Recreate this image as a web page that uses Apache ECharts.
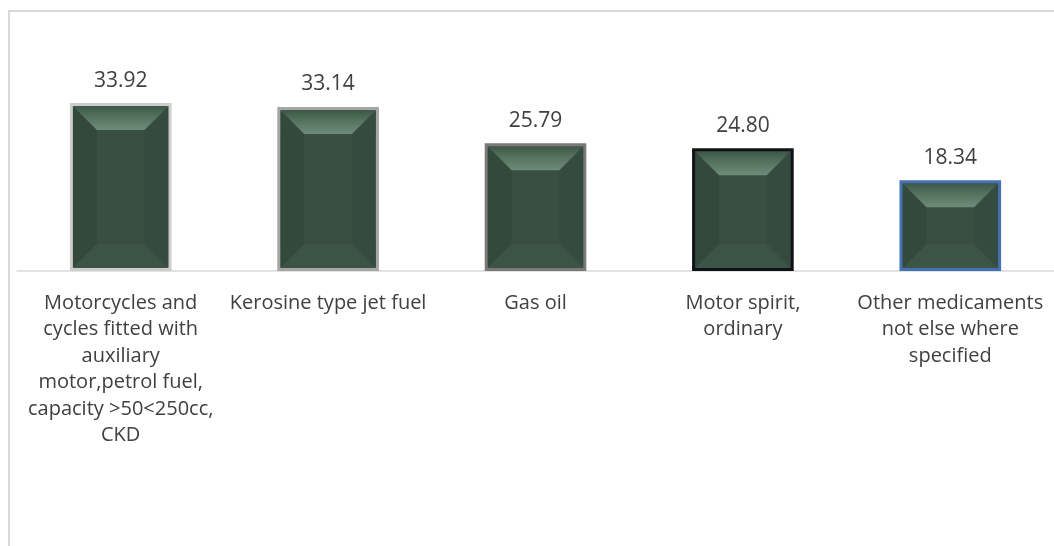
<!DOCTYPE html>
<html>
<head>
<meta charset="utf-8">
<script src="https://cdn.jsdelivr.net/npm/echarts@6/dist/echarts.min.js"></script>
<style>
  html, body { margin: 0; padding: 0; background: #fff; }
  #frame {
    position: absolute; left: 8px; top: 10px; width: 1046px; height: 536px;
    border-left: 2px solid #d9d9d9; border-top: 2px solid #d9d9d9;
  }
  #chart { position: absolute; left: 0; top: 0; width: 1054px; height: 546px; }
</style>
</head>
<body>
<div id="frame"></div>
<div id="chart"></div>
<script>
// products, top import values
var categories = [
  "Motorcycles and\ncycles fitted with\nauxiliary\nmotor,petrol fuel,\ncapacity >50<250cc,\nCKD",
  "Kerosine type jet fuel",
  "Gas oil",
  "Motor spirit,\nordinary",
  "Other medicaments\nnot else where\nspecified"
];
var values = [33.92, 33.14, 25.79, 24.80, 18.34];
var edgeColors = ["#cdcdcd", "#a6a6a6", "#7a7a7a", "#0f1317", "#4472b2"];

var BAR_W = 0.49;

// bevel overlay drawn on top of each bar (faces of the beveled box)
function renderBevel(params, api) {
  var top = api.coord([api.value(0), api.value(1)]);
  var base = api.coord([api.value(0), 0]);
  var w = api.size([1, 0])[0] * BAR_W;
  var b = 3;
  var x0 = top[0] - w / 2 + b, x1 = top[0] + w / 2 - b;
  var y0 = top[1] + b, y1 = base[1] - b;
  var d = Math.min(24, (y1 - y0) / 3);
  return {
    type: "group",
    children: [
      {
        type: "polygon",
        shape: { points: [[x0, y0], [x0 + d, y0 + d], [x0 + d, y1 - d], [x0, y1]] },
        style: { fill: "#33493c" }
      },
      {
        type: "polygon",
        shape: { points: [[x1, y0], [x1 - d, y0 + d], [x1 - d, y1 - d], [x1, y1]] },
        style: { fill: "#354b3f" }
      },
      {
        type: "polygon",
        shape: { points: [[x0, y1], [x0 + d, y1 - d], [x1 - d, y1 - d], [x1, y1]] },
        style: { fill: "#3b5446" }
      },
      {
        type: "polygon",
        shape: { points: [[x0, y0], [x1, y0], [x1 - d, y0 + d], [x0 + d, y0 + d]] },
        style: {
          fill: {
            type: "linear", x: 0, y: 0, x2: 0, y2: 1,
            colorStops: [
              { offset: 0, color: "#3d5748" },
              { offset: 0.4, color: "#52705c" },
              { offset: 1, color: "#6e8c79" }
            ]
          }
        }
      }
    ]
  };
}

var chart = echarts.init(document.getElementById("chart"));
chart.setOption({
  animation: false,
  grid: { left: 17, right: -3, top: 73, height: 198 },
  xAxis: {
    type: "category",
    data: categories,
    axisLine: { lineStyle: { color: "#d9d9d9", width: 1.5 } },
    axisTick: { show: false },
    axisLabel: {
      interval: 0,
      margin: 19,
      color: "#404040",
      fontFamily: "Open Sans",
      fontSize: 20,
      lineHeight: 26.5
    }
  },
  yAxis: {
    type: "value", min: 0, max: 40,
    show: false,
    splitLine: { show: false }
  },
  series: [{
    type: "bar",
    barWidth: BAR_W * 100 + "%",
    data: values.map(function (v, i) {
      return {
        value: v,
        itemStyle: { color: "#394f42", borderColor: edgeColors[i], borderWidth: 4 }
      };
    }),
    label: {
      show: true,
      position: "top",
      distance: 12,
      color: "#404040",
      fontFamily: "Open Sans",
      fontSize: 21,
      formatter: function (p) { return p.value.toFixed(2); }
    },
    z: 2
  }, {
    type: "custom",
    renderItem: renderBevel,
    data: values.map(function (v, i) { return [i, v]; }),
    z: 3,
    silent: true
  }]
});
</script>
</body>
</html>
